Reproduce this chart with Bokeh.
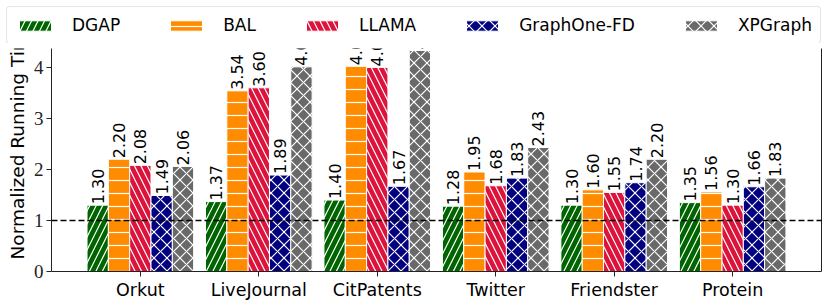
import math
from bokeh.plotting import figure
from bokeh.models import (ColumnDataSource, FactorRange, Range1d, FixedTicker, Span,
                          Legend, LegendItem, LinearAxis)
from bokeh.layouts import column, row
from bokeh.transform import dodge
from bokeh.core.properties import value
from bokeh.embed import file_html
from bokeh.resources import INLINE

# ---------------- data ----------------
categories = ["Orkut", "LiveJournal", "CitPatents", "Twitter", "Friendster", "Protein"]
series_names = ["DGAP", "BAL", "LLAMA", "GraphOne-FD", "XPGraph"]
dgap = [1.30, 1.37, 1.40, 1.28, 1.30, 1.35]
bal = [2.20, 3.54, 4.02, 1.95, 1.60, 1.56]
llama = [2.08, 3.60, 4.00, 1.68, 1.55, 1.30]
graphone_fd = [1.49, 1.89, 1.67, 1.83, 1.74, 1.66]
xpgraph = [2.06, 4.01, 4.33, 2.43, 2.20, 1.83]
y_ticks = [0, 1, 2, 3, 4]
baseline = 1.0
y_label = "Normalized Running Time"

# ---------------- styles ----------------
colors = ["#006400", "#FF8C00", "#DC143C", "#000080", "#696969"]
hatches = ["right_diagonal_line", "horizontal_line", "left_diagonal_line",
           "diagonal_cross", "diagonal_cross"]
bar_w = 0.18
AX = "#222222"

series_values = [dgap, bal, llama, graphone_fd, xpgraph]
data = {"cat": categories}
for i, vals in enumerate(series_values):
    data[f"s{i}"] = vals
    data[f"l{i}"] = [f"{v:.2f}" for v in vals]
src = ColumnDataSource(data)


def bar_style(i):
    return dict(fill_color=colors[i], line_color="white", line_width=1,
                hatch_pattern=hatches[i], hatch_color="white", hatch_scale=13,
                hatch_weight=1.2)


LEG_H = 43
STRIP_W = 30
MAIN_H = 308 - LEG_H

# ---------------- main plot ----------------
p = figure(
    x_range=FactorRange(*categories, range_padding=0.25, range_padding_units="absolute"),
    y_range=Range1d(0, 4.37),
    frame_width=770, frame_height=223,
    output_backend="svg", toolbar_location=None,
    min_border_left=51 - STRIP_W, min_border_right=9, min_border_top=48 - LEG_H,
    min_border_bottom=MAIN_H - 223 - (48 - LEG_H),
)
p.xgrid.grid_line_color = None
p.ygrid.grid_line_color = None
p.outline_line_color = None
p.background_fill_color = "white"

for i, name in enumerate(series_names):
    off = (i - 2) * bar_w
    p.vbar(x=dodge("cat", off, range=p.x_range), top=f"s{i}", width=bar_w,
           source=src, **bar_style(i))

for i, name in enumerate(series_names):
    off = (i - 2) * bar_w
    p.text(x=dodge("cat", off, range=p.x_range), y=f"s{i}", text=f"l{i}", source=src,
           angle=math.pi / 2, text_align="left", text_baseline="middle",
           text_font=value("DejaVu Sans"), text_font_size="16px", text_color="black",
           y_offset=-1)

p.add_layout(Span(location=baseline, dimension="width", line_color="black",
                  line_dash="6 3", line_width=1.5))

p.yaxis.ticker = FixedTicker(ticks=y_ticks)
p.yaxis.major_label_text_font = "Liberation Serif"
p.yaxis.major_label_text_font_size = "19px"
p.yaxis.major_label_text_color = AX
p.yaxis.major_tick_out = 5
p.yaxis.major_tick_in = 0
p.yaxis.minor_tick_out = 0
p.yaxis.minor_tick_in = 0
p.yaxis.axis_line_color = AX
p.yaxis.major_tick_line_color = AX
p.yaxis.major_label_standoff = 3

p.xaxis.major_label_text_font = "DejaVu Sans"
p.xaxis.major_label_text_font_size = "17.5px"
p.xaxis.major_label_text_color = "black"
p.xaxis.major_tick_out = 5
p.xaxis.major_tick_in = 0
p.xaxis.axis_line_color = AX
p.xaxis.major_tick_line_color = AX
p.xaxis.major_label_standoff = 3

right_axis = LinearAxis(ticker=FixedTicker(ticks=[]), major_label_text_font_size="0px",
                        major_tick_out=0, major_tick_in=0, minor_tick_out=0,
                        minor_tick_in=0, major_label_standoff=0,
                        axis_line_color=AX)
p.add_layout(right_axis, "right")

# ---------------- y label strip (shares the y scale of the main plot) ----------------
yl = figure(width=STRIP_W, height=MAIN_H, x_range=Range1d(0, STRIP_W),
            y_range=p.y_range,
            output_backend="svg", toolbar_location=None, min_border=0,
            x_axis_type=None, y_axis_type=None)
yl.outline_line_color = None
yl.grid.grid_line_color = None
yl.text(x=[17], y=[0.235], text=[y_label], angle=math.pi / 2, text_align="left",
        text_baseline="middle", text_font=value("DejaVu Sans"),
        text_font_size="18.5px", text_color="black")

# ---------------- legend strip ----------------
lg = figure(width=830, height=LEG_H, x_range=Range1d(0, 1), y_range=Range1d(0, 1),
            output_backend="svg", toolbar_location=None, min_border=0,
            x_axis_type=None, y_axis_type=None)
lg.outline_line_color = None
lg.grid.grid_line_color = None
items = []
for i, name in enumerate(series_names):
    r = lg.vbar(x=[0.5], top=[0], bottom=[0], width=0.001, **bar_style(i))
    items.append(LegendItem(label=name, renderers=[r]))
legend = Legend(items=items, orientation="horizontal", location="top_left",
                glyph_width=40, glyph_height=13, spacing=46, label_standoff=17,
                padding=8, margin=6, label_text_font="DejaVu Sans",
                label_text_font_size="17px", label_height=20, label_text_color="black",
                border_line_color="#cccccc", border_line_width=1,
                background_fill_color="white", background_fill_alpha=1.0)
if "border_radius" in Legend.properties():
    legend.border_radius = 4
lg.add_layout(legend, "center")

layout = column(lg, row(yl, p))
open("out.html", "w").write(file_html(layout, INLINE))
